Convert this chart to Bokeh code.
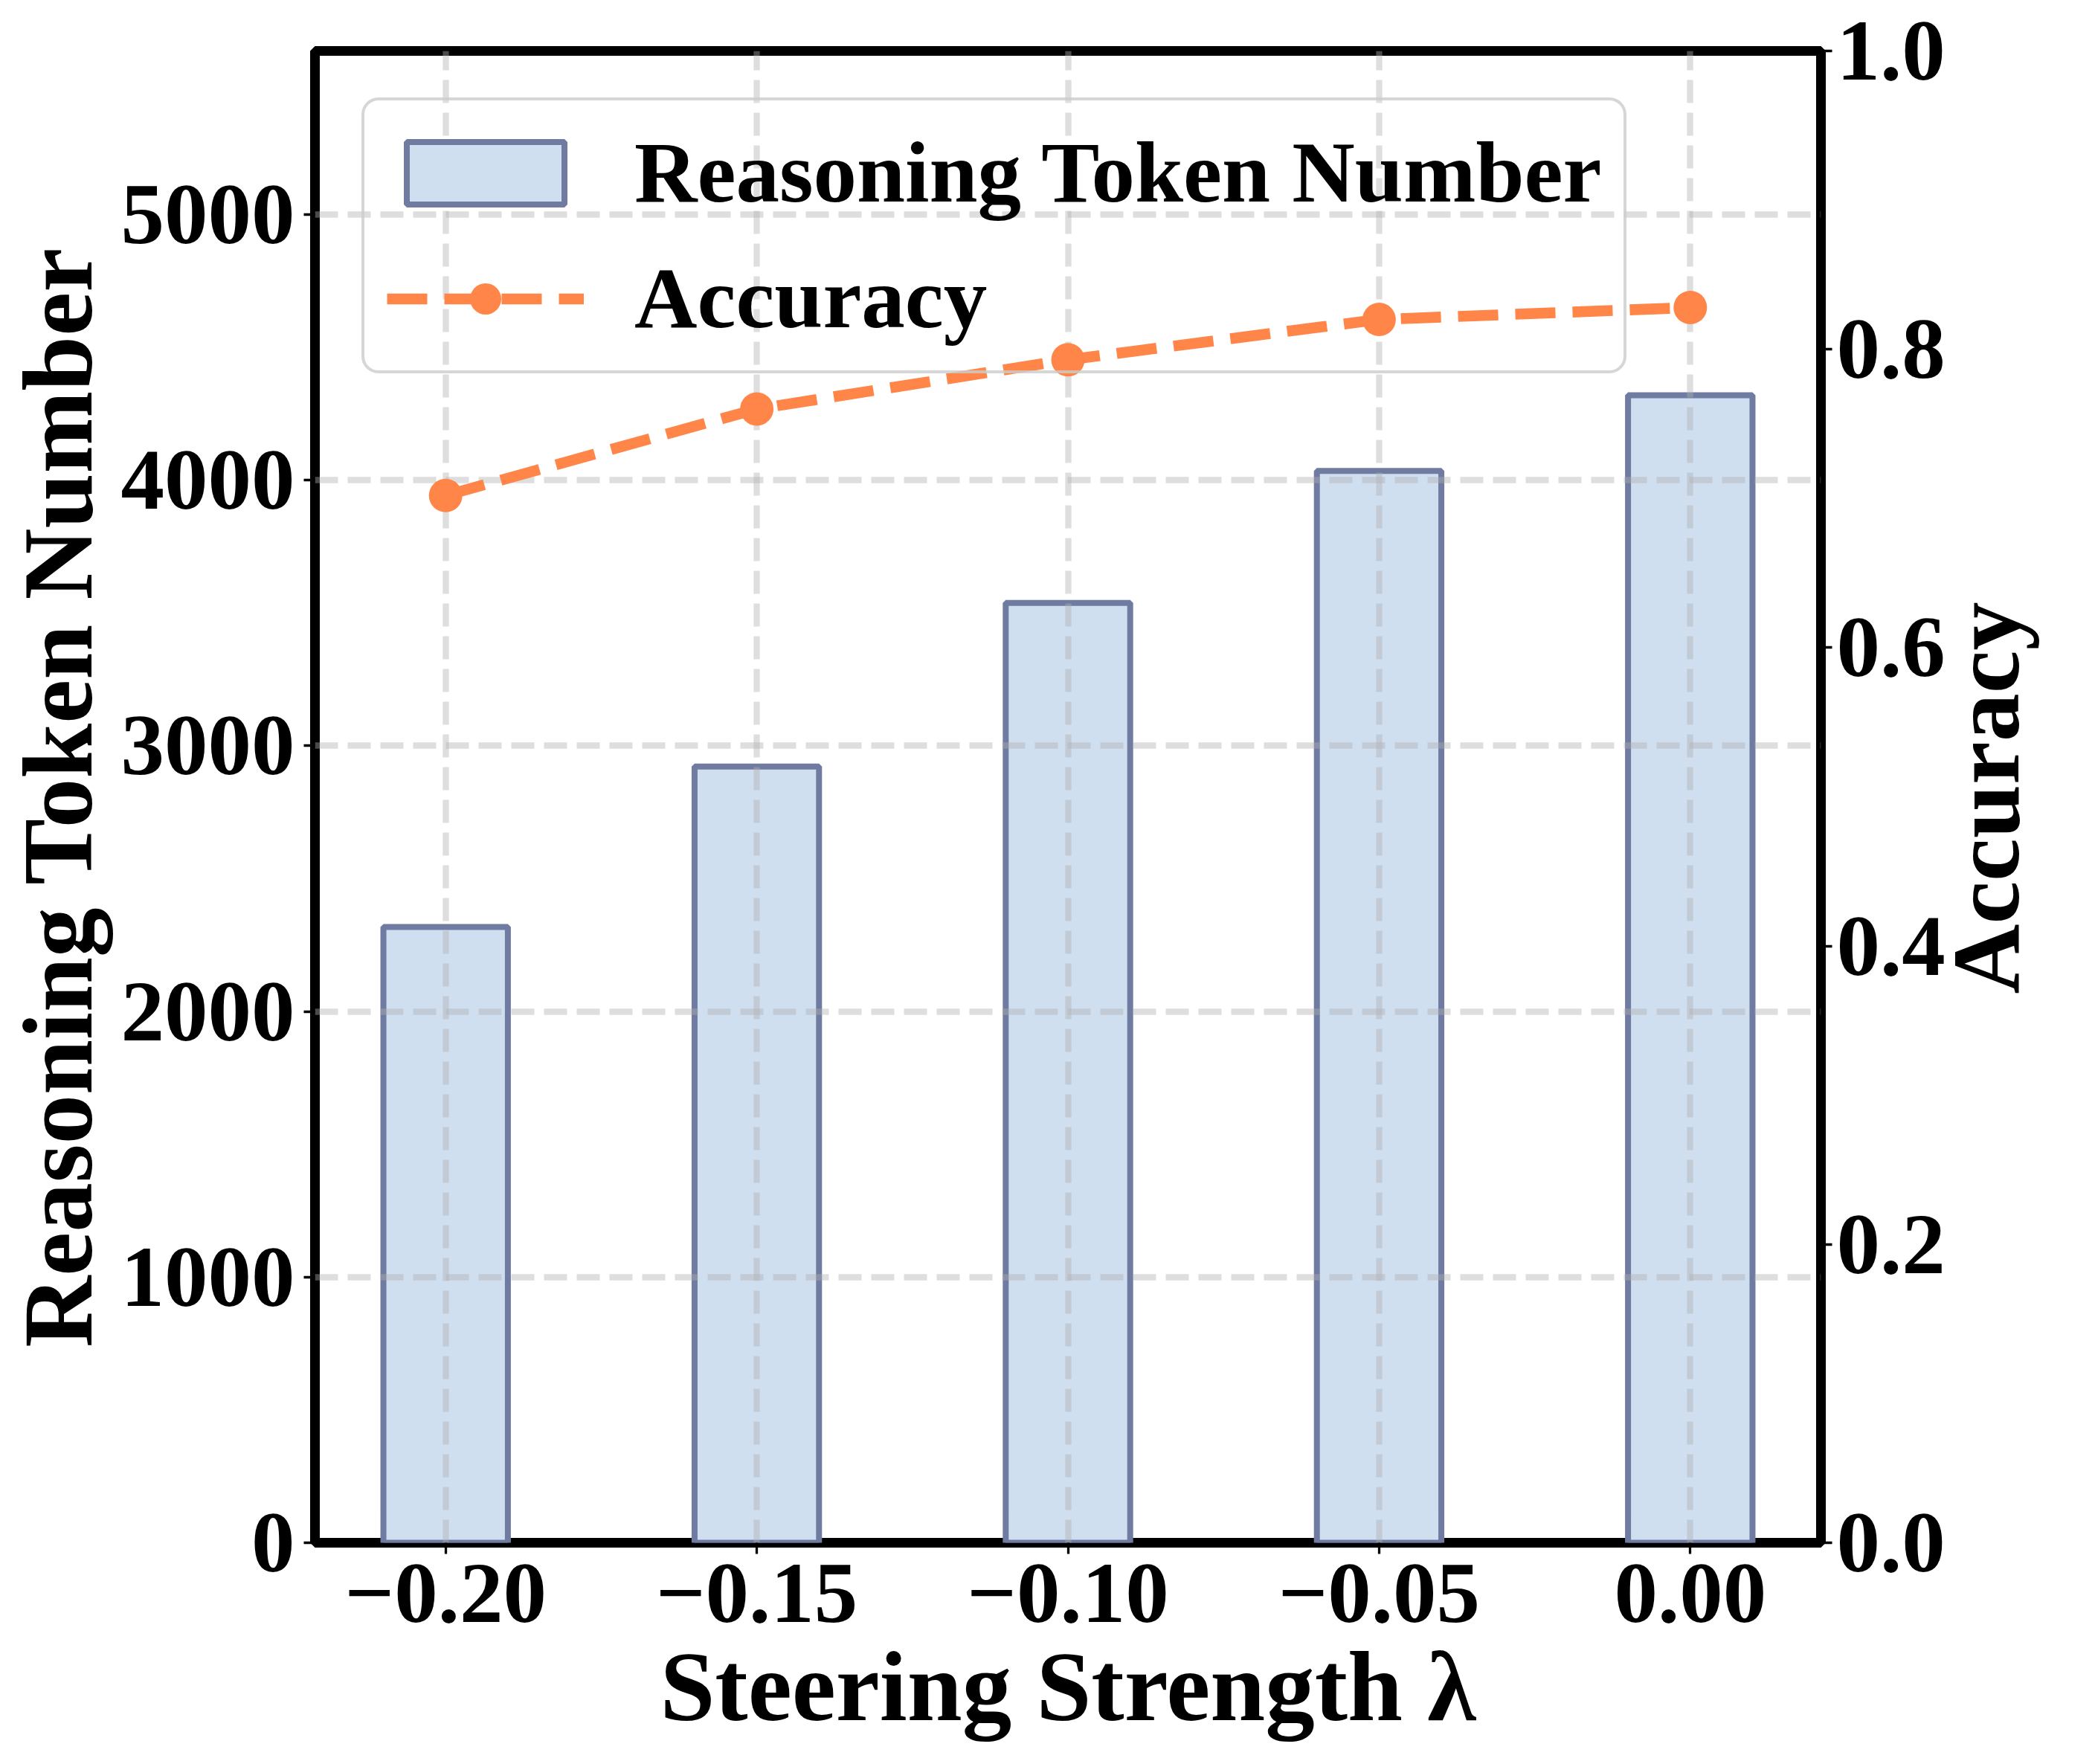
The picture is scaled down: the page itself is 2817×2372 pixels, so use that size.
import math
from bokeh.plotting import figure
from bokeh.models import (Range1d, LinearAxis, FixedTicker, Legend, LegendItem)
from bokeh.embed import file_html
from bokeh.resources import INLINE

# ---- data ----
lambdas = [-0.20, -0.15, -0.10, -0.05, 0.00]
lambda_labels = ["\u22120.20", "\u22120.15", "\u22120.10", "\u22120.05", "0.00"]
tokens = [2318, 2922, 3538, 4035, 4320]
accuracy = [0.702, 0.760, 0.793, 0.820, 0.828]
token_ticks = [0, 1000, 2000, 3000, 4000, 5000]
token_tick_labels = ["0", "1000", "2000", "3000", "4000", "5000"]
acc_ticks = [0.0, 0.2, 0.4, 0.6, 0.8, 1.0]
acc_tick_labels = ["0.0", "0.2", "0.4", "0.6", "0.8", "1.0"]

FONT = "Liberation Serif"
TICK_SIZE = "117px"
TITLE_SIZE = "133px"

W, H = 2817, 2372
FL, FR, FT, FB = 418, 2452, 68, 2074  # frame edges in figure px

x_start, x_end = -0.221, 0.021
y_start, y_end = 0, max(tokens) * 1.3

p = figure(width=W, height=H, output_backend="svg", toolbar_location=None,
           x_range=Range1d(x_start, x_end), y_range=Range1d(y_start, y_end),
           min_border_left=FL, min_border_right=W - FR,
           min_border_top=FT, min_border_bottom=H - FB)
p.extra_y_ranges = {"acc": Range1d(0, 1)}
p.background_fill_color = "white"
p.border_fill_color = "white"
p.outline_line_color = "black"
p.outline_line_width = 13

# bars
bars = p.vbar(x=lambdas, top=tokens, width=0.02, bottom=0,
              fill_color="#cfdff0", line_color="#6f7ba0", line_width=8, level="image")

# accuracy line
line_r = p.line(x=lambdas, y=accuracy, y_range_name="acc", line_color="#ff8548",
                line_width=14.6, line_dash="54 23")
pts_r = p.scatter(x=lambdas, y=accuracy, y_range_name="acc", size=45,
                  fill_color="#ff8548", line_color="#ff8548", line_width=0)

def style_axis(ax, standoff, label=None, label_standoff=0):
    ax.axis_line_color = None
    ax.major_tick_out = 15
    ax.major_tick_in = 0
    ax.minor_tick_out = 0
    ax.minor_tick_in = 0
    ax.minor_tick_line_color = None
    ax.major_tick_line_color = "black"
    ax.major_tick_line_width = 3.3
    ax.major_label_text_font = FONT
    ax.major_label_text_font_style = "bold"
    ax.major_label_text_font_size = TICK_SIZE
    ax.major_label_text_color = "black"
    ax.major_label_standoff = standoff
    if label:
        ax.axis_label = label
        ax.axis_label_standoff = label_standoff
        ax.axis_label_text_font = FONT
        ax.axis_label_text_font_style = "bold"
        ax.axis_label_text_font_size = TITLE_SIZE
        ax.axis_label_text_color = "black"

xa = p.xaxis[0]
xa.ticker = FixedTicker(ticks=lambdas)
xa.major_label_overrides = {t: s for t, s in zip(lambdas, lambda_labels)}
style_axis(xa, 14, "Steering Strength \u03bb", 10)

ya = p.yaxis[0]
ya.ticker = FixedTicker(ticks=token_ticks)
ya.major_label_overrides = {t: s for t, s in zip(token_ticks, token_tick_labels)}
style_axis(ya, 12, "Reasoning Token Number", 8)

ra = LinearAxis(y_range_name="acc", ticker=FixedTicker(ticks=acc_ticks))
ra.major_label_overrides = {t: s for t, s in zip(acc_ticks, acc_tick_labels)}
style_axis(ra, 6)
p.add_layout(ra, "right")

# right-hand title, reading bottom-to-top like the reference: a single rotated
# label on a tick-less outer axis, starting where the centred title begins
title_start = round((FB - 1336) / (FB - FT), 4)   # acc units
ta = LinearAxis(y_range_name="acc", ticker=FixedTicker(ticks=[title_start]))
style_axis(ta, 52)
ta.major_tick_out = 0
ta.major_tick_line_color = None
ta.major_label_text_font_size = "130px"
ta.major_label_orientation = math.pi / 2
ta.major_label_overrides = {title_start: "Accuracy"}
p.add_layout(ta, "right")

# grid
for g in (p.xgrid[0], p.ygrid[0]):
    g.grid_line_color = "#b0b0b0"
    g.grid_line_alpha = 0.42
    g.grid_line_width = 8.3
    g.grid_line_dash = "31 13"
p.ygrid[0].ticker = FixedTicker(ticks=token_ticks)
p.xgrid[0].ticker = FixedTicker(ticks=lambdas)

# legend
legend = Legend(items=[LegendItem(label="Reasoning Token Number", renderers=[bars]),
                       LegendItem(label="Accuracy", renderers=[line_r, pts_r])],
                location="top_left", margin=63, padding=30, spacing=35,
                glyph_width=265, glyph_height=105, label_height=130,
                label_standoff=68, label_text_font=FONT, label_text_font_style="bold",
                label_text_font_size=TICK_SIZE, label_text_color="black",
                background_fill_color="white", background_fill_alpha=0.0,
                border_line_color="#cccccc", border_line_alpha=0.8, border_line_width=4.2)
if "border_radius" in Legend.properties():
    legend.border_radius = 23
p.add_layout(legend, "center")

open("out.html", "w").write(file_html(p, INLINE))
